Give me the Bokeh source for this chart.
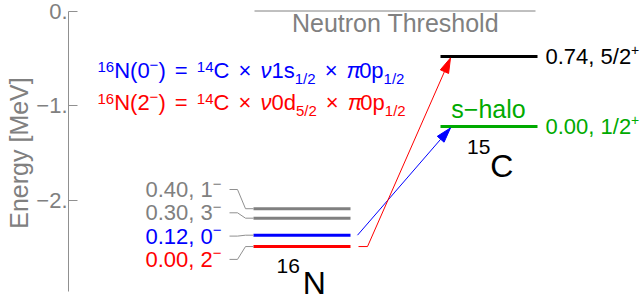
import math
from bokeh.plotting import figure
from bokeh.models import Range1d, FixedTicker
from bokeh.core.properties import value
from bokeh.embed import file_html
from bokeh.resources import INLINE

# ---------------- data ----------------
# 16N levels, energy relative to the neutron threshold [MeV]
n16_energy = [-2.49, -2.37, -2.19, -2.09]
n16_exc = ["0.00", "0.12", "0.30", "0.40"]
n16_spin = ["2", "0", "3", "1"]          # all negative parity
n16_color = ["#ff0000", "#0000ff", "#808080", "#808080"]

# 15C levels
c15_energy = [-1.22, -0.48]
c15_exc = ["0.00", "0.74"]
c15_spin = ["1/2", "5/2"]                # positive parity
c15_color = ["#00aa00", "#000000"]

threshold_energy = 0.0
# transitions: (16N level index, 15C level index, colour)
transitions = [(1, 0, "#0000ff"), (0, 1, "#ff0000")]

y_ticks = [0, -1, -2]
y_tick_labels = ["0.", "−1.", "−2."]

# ---------------- layout ----------------
FONT = "Liberation Sans"
W, H = 643, 305
K = 94.6            # px per MeV
E0_PAGE = 10.5      # page y of E = 0
YTOP = E0_PAGE / K
YBOT = YTOP - H / K
GRAY = "#808080"


def Y(page_y):
    return YTOP - page_y / K


def PY(e):
    return (YTOP - e) * K


ARIAL = {c: 556 for c in "0123456789"}
ARIAL.update({".": 278, ",": 278, " ": 278, "/": 278, "−": 584, "+": 584,
              "(": 333, ")": 333, "=": 584, "×": 584, "N": 722, "C": 722,
              "s": 500, "p": 556, "d": 556, "ν": 500, "π": 570})


def tw(txt, size):
    return sum(ARIAL.get(c, 556) for c in txt) * size / 1000.0


p = figure(width=W, height=H, x_range=Range1d(68, W), y_range=Range1d(YBOT, YTOP),
           x_axis_type=None, toolbar_location=None, output_backend="svg",
           min_border_left=68, min_border_right=0, min_border_top=0, min_border_bottom=0)
p.grid.visible = False
p.outline_line_color = None
p.background_fill_color = "white"
p.border_fill_color = "white"

ax = p.yaxis[0]
ax.ticker = FixedTicker(ticks=y_ticks)
ax.major_label_overrides = {float(t): l for t, l in zip(y_ticks, y_tick_labels)}
ax.bounds = (-2.97, 0)
ax.axis_line_color = "#909090"
ax.major_tick_line_color = "#909090"
ax.major_tick_in = 9
ax.major_tick_out = 0
ax.minor_tick_line_color = None
ax.major_label_text_font = FONT
ax.major_label_text_font_size = "22px"
ax.major_label_text_color = GRAY
ax.major_label_standoff = 1
ax.axis_label = "Energy [MeV]"
ax.axis_label_text_font = FONT
ax.axis_label_text_font_size = "25px"
ax.axis_label_text_font_style = "normal"
ax.axis_label_text_color = GRAY
ax.axis_label_standoff = 0


def put(x, page_c, txt, size, color, style="normal", align="left"):
    p.text(x=[x], y=[Y(page_c)], text=[txt], text_font=value(FONT),
           text_font_size=f"{size}px", text_font_style=style, text_color=color,
           text_align=align, text_baseline="middle")


def rich(x, page_c, pieces, color):
    """pieces: numbers advance x; tuples (text, size, dy_center, style)."""
    for pc in pieces:
        if isinstance(pc, (int, float)):
            x += pc
            continue
        txt, size, dy, style = pc
        put(x, page_c + dy, txt, size, color, style)
        x += tw(txt, size)
    return x


# neutron threshold
p.segment(x0=[254], x1=[535], y0=[threshold_energy], y1=[threshold_energy],
          line_color=GRAY, line_width=1)
put(395, 22, "Neutron Threshold", 25, GRAY, align="center")

# levels
p.segment(x0=[253] * 4, x1=[350] * 4, y0=n16_energy, y1=n16_energy,
          line_color=n16_color, line_width=3)
p.segment(x0=[440] * 2, x1=[537] * 2, y0=c15_energy, y1=c15_energy,
          line_color=c15_color, line_width=3)

# 16N labels with connectors
LABEL_TOP, LABEL_STEP = 189, 23.3
for i, (e, ex, sp, col) in enumerate(zip(n16_energy, n16_exc, n16_spin, n16_color)):
    row = len(n16_energy) - 1 - i
    c = LABEL_TOP + row * LABEL_STEP
    rich(145, c, [(f"{ex}, {sp}", 22, 0, "normal"), ("−", 15, -6, "normal")], col)
    ly = PY(e)
    p.line(x=[229, 237, 245, 253], y=[Y(c), Y(c), Y(ly), Y(ly)],
           line_color="#909090", line_width=1)

# 15C labels
for e, ex, sp, col in zip(c15_energy, c15_exc, c15_spin, c15_color):
    rich(545, PY(e) + 0.5, [(f"{ex}, {sp}", 22, 0, "normal"), ("+", 14, -7, "normal")], col)
put(488, PY(c15_energy[0]) - 17.5, "s−halo", 25, c15_color[0], align="center")

# nucleus names
rich(466.5, 165, [("15", 21, -19, "normal"), ("C", 32, 0, "normal")], "black")
rich(276, 282, [("16", 21, -17, "normal"), 3, ("N", 32, 0, "normal")], "black")

# configuration formulas
M, S = 22, 15
G = tw(" ", M) + 3
UP, DN, SG = -4, 8, -6
f1 = [("16", S, UP, "normal"), ("N(0", M, 0, "normal"), ("−", S, SG, "normal"),
      (")", M, 0, "normal"), G, ("=", M, 0, "normal"), G, ("14", S, UP, "normal"),
      ("C", M, 0, "normal"), G, ("×", M, 0, "normal"), G, ("ν", M, 0, "italic"),
      ("1s", M, 0, "normal"), ("1/2", S, DN, "normal"), G, ("×", M, 0, "normal"), G,
      ("π", M, 0, "italic"), ("0p", M, 0, "normal"), ("1/2", S, DN, "normal")]
f2 = [("16", S, UP, "normal"), ("N(2", M, 0, "normal"), ("−", S, SG, "normal"),
      (")", M, 0, "normal"), G, ("=", M, 0, "normal"), G, ("14", S, UP, "normal"),
      ("C", M, 0, "normal"), G, ("×", M, 0, "normal"), G, ("ν", M, 0, "italic"),
      ("0d", M, 0, "normal"), ("5/2", S, DN, "normal"), G, ("×", M, 0, "normal"), G,
      ("π", M, 0, "italic"), ("0p", M, 0, "normal"), ("1/2", S, DN, "normal")]
rich(97, 70, f1, "#0000ff")
rich(97, 102, f2, "#ff0000")


# transition arrows
def arrow(xs, ys, color):
    tx, ty = xs[-1], ys[-1]
    dx, dy = tx - xs[-2], ty - ys[-2]
    L = math.hypot(dx, dy)
    ux, uy = dx / L, dy / L
    bx, by = tx - 15 * ux, ty - 15 * uy
    nx, ny = -uy, ux
    p.line(x=xs[:-1] + [bx], y=[Y(v) for v in ys[:-1] + [by]], line_color=color, line_width=1)
    hx = [tx, bx + 4.5 * nx, bx - 4.5 * nx]
    hy = [ty, by + 4.5 * ny, by - 4.5 * ny]
    p.patch(x=hx, y=[Y(v) for v in hy], fill_color=color, line_color=color, line_width=1)


for ni, ci, col in transitions:
    y0 = PY(n16_energy[ni])
    y1 = PY(c15_energy[ci]) + 1.5
    if ni == 0:
        arrow([358, 367, 450], [y0, y0, y1], col)
    else:
        arrow([357, 450], [y0, y1], col)

open("out.html", "w").write(file_html(p, INLINE))
